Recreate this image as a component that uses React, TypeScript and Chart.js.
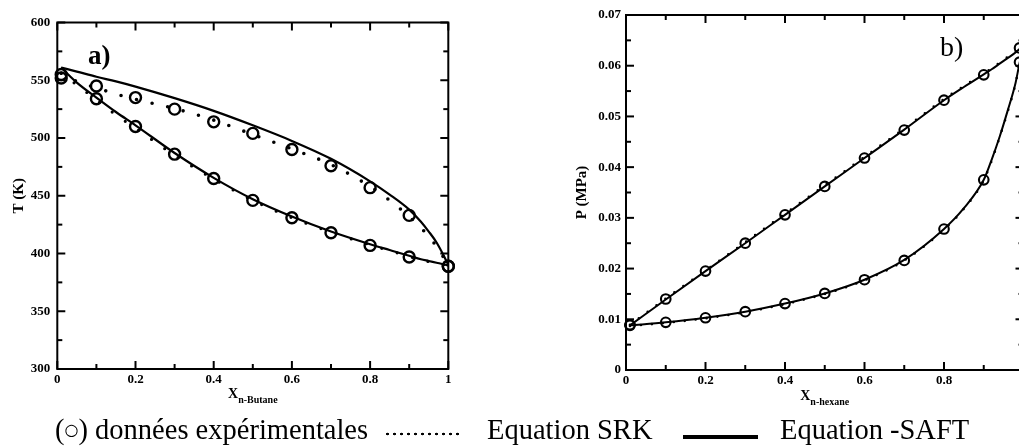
import React, { useEffect, useRef } from "react";
import { Chart, registerables } from "chart.js";

Chart.register(...registerables);

const FONT = '"Liberation Serif", "Times New Roman", serif';

// ---------- Panel a) : T (K) vs x n-Butane ----------
const expXA = [0.01, 0.1, 0.2, 0.3, 0.4, 0.5, 0.6, 0.7, 0.8, 0.9, 1.0];
const expBubbleA = [552, 534, 510, 486, 465, 446, 431, 418, 407, 397, 389];
const expDewA = [555, 545, 535, 525, 514, 504, 490, 476, 457, 433, 389];
const curveXA = [0.01, 0.05, 0.1, 0.15, 0.2, 0.3, 0.4, 0.5, 0.6, 0.7, 0.8, 0.85, 0.9, 0.93, 0.95, 0.97, 0.99, 1.0];
const saftDewA = [561, 557.5, 553, 549, 544.5, 534.5, 523.5, 511, 497.5, 482, 462.5, 451, 438, 427.5, 419, 409.5, 397, 390];
const saftBubbleA = [561, 548, 535, 522.5, 511, 487, 465.5, 447, 432, 419, 408, 403, 398, 395, 393.5, 392, 390.5, 389.5];
const srkDewA = [556, 549, 543.5, 538, 533.5, 525.5, 515.5, 503, 490.5, 477, 458, 446, 432, 422, 415, 406, 395.5, 390];
const srkBubbleA = [556, 546, 533, 520, 508.5, 485, 464.5, 446, 431, 418.5, 407.5, 402.5, 397.5, 394.5, 393, 391.5, 390, 389];
const xTicksA = [0, 0.2, 0.4, 0.6, 0.8, 1];
const yTicksA = [300, 350, 400, 450, 500, 550, 600];

// ---------- Panel b) : P (MPa) vs x n-hexane ----------
const expXB = [0.01, 0.1, 0.2, 0.3, 0.4, 0.5, 0.6, 0.7, 0.8, 0.9, 0.99];
const expBubbleB = [0.0089, 0.014, 0.0195, 0.025, 0.0306, 0.0362, 0.0418, 0.0473, 0.0532, 0.0582, 0.0635];
const expDewB = [0.0088, 0.0094, 0.0103, 0.0115, 0.0131, 0.0151, 0.0178, 0.0216, 0.0278, 0.0375, 0.0607];
const curveXB = [0.01, 0.1, 0.2, 0.3, 0.4, 0.5, 0.6, 0.7, 0.8, 0.85, 0.9, 0.92, 0.94, 0.96, 0.98, 0.99, 1.0];
const saftBubbleB = [0.0088, 0.0139, 0.0195, 0.025, 0.0306, 0.0362, 0.0418, 0.0474, 0.0532, 0.0558, 0.0583, 0.0593, 0.0604, 0.0615, 0.0626, 0.0633, 0.0638];
const saftDewB = [0.0088, 0.0094, 0.0103, 0.0115, 0.0131, 0.0151, 0.0178, 0.0217, 0.0278, 0.0319, 0.0375, 0.0415, 0.046, 0.0511, 0.0566, 0.0605, 0.0638];
const srkBubbleB = [0.0089, 0.0141, 0.0196, 0.0252, 0.0308, 0.0364, 0.042, 0.0476, 0.0534, 0.056, 0.0585, 0.0595, 0.0606, 0.0617, 0.0628, 0.0635, 0.0639];
const srkDewB = [0.0087, 0.0093, 0.0102, 0.0114, 0.013, 0.015, 0.0177, 0.0216, 0.0277, 0.0318, 0.0374, 0.0413, 0.0459, 0.0509, 0.0565, 0.0604, 0.0638];
const xTicksB = [0, 0.2, 0.4, 0.6, 0.8, 1];
const yTicksB = [0, 0.01, 0.02, 0.03, 0.04, 0.05, 0.06, 0.07];

const pts = (xs: number[], ys: number[]) => xs.map((x, i) => ({ x, y: ys[i] }));
const mids = (v: number[]) => v.slice(1).map((b, i) => (b + v[i]) / 2);

type Decor = {
  yTitle: string;
  yTitleX: number;
  xMain: string;
  xSub: string;
  xTitleY: number;
  label: string;
  labelFont: string;
  labelX: number;
  labelY: number;
  xMajor: number[];
  yMajor: number[];
};

function decorPlugin(d: Decor) {
  return {
    id: "decor",
    afterDatasetsDraw(chart: any) {
      const { ctx, chartArea: ca, scales } = chart;
      const xs = scales.x;
      const ys = scales.y;
      const MAJ = 8;
      const MIN = 5;
      ctx.save();
      ctx.strokeStyle = "#000";
      ctx.fillStyle = "#000";
      ctx.lineWidth = 2;
      const seg = (x1: number, y1: number, x2: number, y2: number) => {
        ctx.beginPath();
        ctx.moveTo(x1, y1);
        ctx.lineTo(x2, y2);
        ctx.stroke();
      };
      const xt = (v: number, len: number) => {
        const px = xs.getPixelForValue(v);
        seg(px, ca.bottom, px, ca.bottom - len);
        seg(px, ca.top, px, ca.top + len);
      };
      const yt = (v: number, len: number) => {
        const py = ys.getPixelForValue(v);
        seg(ca.left, py, ca.left + len, py);
        seg(ca.right, py, ca.right - len, py);
      };
      d.xMajor.forEach((v) => xt(v, MAJ));
      mids(d.xMajor).forEach((v) => xt(v, MIN));
      d.yMajor.forEach((v) => yt(v, MAJ));
      mids(d.yMajor).forEach((v) => yt(v, MIN));
      ctx.lineWidth = 2;
      ctx.strokeRect(ca.left, ca.top, ca.right - ca.left, ca.bottom - ca.top);

      // y title
      ctx.save();
      ctx.translate(d.yTitleX, (ca.top + ca.bottom) / 2);
      ctx.rotate(-Math.PI / 2);
      ctx.textAlign = "center";
      ctx.textBaseline = "middle";
      ctx.font = `bold 15px ${FONT}`;
      ctx.fillText(d.yTitle, 0, 0);
      ctx.restore();

      // x title with subscript
      ctx.textAlign = "left";
      ctx.textBaseline = "alphabetic";
      ctx.font = `bold 14px ${FONT}`;
      const wX = ctx.measureText(d.xMain).width;
      ctx.font = `bold 10px ${FONT}`;
      const wS = ctx.measureText(d.xSub).width;
      const start = (ca.left + ca.right) / 2 - (wX + wS) / 2;
      ctx.font = `bold 14px ${FONT}`;
      ctx.fillText(d.xMain, start, d.xTitleY);
      ctx.font = `bold 10px ${FONT}`;
      ctx.fillText(d.xSub, start + wX, d.xTitleY + 5);

      // panel label
      ctx.font = d.labelFont;
      ctx.fillText(d.label, d.labelX, d.labelY);
      ctx.restore();
    },
  };
}

function expDs(data: any[], r: number, w: number) {
  return {
    data,
    showLine: false,
    pointRadius: r,
    pointBorderWidth: w,
    pointStyle: "circle",
    pointBackgroundColor: "rgba(0,0,0,0)",
    pointBorderColor: "#000",
    borderColor: "#000",
    clip: false,
  };
}
function solidDs(data: any[], w: number) {
  return {
    data,
    borderColor: "#000",
    borderWidth: w,
    pointRadius: 0,
    cubicInterpolationMode: "monotone",
    fill: false,
  };
}
function dottedDs(data: any[], w: number, gap: number) {
  return {
    data,
    borderColor: "#000",
    borderWidth: w,
    borderDash: [0, gap],
    borderCapStyle: "round",
    pointRadius: 0,
    cubicInterpolationMode: "monotone",
    fill: false,
  };
}

function makeConfig(opts: {
  datasets: any[];
  xTicks: number[];
  yTicks: number[];
  yMin: number;
  yMax: number;
  yWidth: number;
  xHeight: number;
  pad: any;
  yPad: number;
  xPad: number;
  yFmt: (v: number) => string;
  decor: Decor;
}) {
  const font = { family: FONT, size: 13, weight: "bold" as const };
  return {
    type: "line" as const,
    data: { datasets: opts.datasets },
    options: {
      responsive: false,
      animation: false,
      events: [],
      layout: { padding: opts.pad },
      plugins: { legend: { display: false }, tooltip: { enabled: false } },
      scales: {
        x: {
          type: "linear",
          min: 0,
          max: 1,
          grid: { display: false, drawTicks: false },
          border: { display: false },
          afterBuildTicks: (s: any) => {
            s.ticks = opts.xTicks.map((v) => ({ value: v }));
          },
          afterFit: (s: any) => {
            s.height = opts.xHeight;
            s.paddingLeft = 0;
            s.paddingRight = 0;
          },
          ticks: {
            color: "#000",
            font,
            padding: opts.xPad,
            maxRotation: 0,
            autoSkip: false,
            callback: (v: any) => (v === 0 ? "0" : v === 1 ? "1" : Number(v).toFixed(1)),
          },
        },
        y: {
          type: "linear",
          min: opts.yMin,
          max: opts.yMax,
          grid: { display: false, drawTicks: false },
          border: { display: false },
          afterBuildTicks: (s: any) => {
            s.ticks = opts.yTicks.map((v) => ({ value: v }));
          },
          afterFit: (s: any) => {
            s.width = opts.yWidth;
            s.paddingTop = 0;
            s.paddingBottom = 0;
          },
          ticks: {
            color: "#000",
            font,
            padding: opts.yPad,
            autoSkip: false,
            callback: (v: any) => opts.yFmt(Number(v)),
          },
        },
      },
    },
    plugins: [decorPlugin(opts.decor)],
  } as any;
}

export default function App() {
  const refA = useRef<HTMLCanvasElement | null>(null);
  const refB = useRef<HTMLCanvasElement | null>(null);

  useEffect(() => {
    const cfgA = makeConfig({
      datasets: [
        expDs(pts(expXA, expBubbleA), 5.5, 2.4),
        expDs(pts(expXA, expDewA), 5.5, 2.4),
        solidDs(pts(curveXA, saftDewA), 2.2),
        solidDs(pts(curveXA, saftBubbleA), 2.2),
        dottedDs(pts(curveXA, srkDewA), 3.6, 16),
        dottedDs(pts(curveXA, srkBubbleA), 3.2, 16),
      ],
      xTicks: xTicksA,
      yTicks: yTicksA,
      yMin: 300,
      yMax: 600,
      yWidth: 57.3,
      xHeight: 51,
      pad: { left: 0, top: 22.5, right: 21.7, bottom: 0 },
      yPad: 7,
      xPad: 3,
      yFmt: (v) => String(Math.round(v)),
      decor: {
        yTitle: "T (K)",
        yTitleX: 19,
        xMain: "X",
        xSub: "n-Butane",
        xTitleY: 398,
        label: "a)",
        labelFont: `bold 27px ${FONT}`,
        labelX: 88,
        labelY: 64,
        xMajor: xTicksA,
        yMajor: yTicksA,
      },
    });
    const cfgB = makeConfig({
      datasets: [
        expDs(pts(expXB, expBubbleB), 4.8, 2.1),
        expDs(pts(expXB, expDewB), 4.8, 2.1),
        solidDs(pts(curveXB, saftBubbleB), 2),
        solidDs(pts(curveXB, saftDewB), 2),
        dottedDs(pts(curveXB, srkBubbleB), 2.6, 11),
        dottedDs(pts(curveXB, srkDewB), 2.6, 11),
      ],
      xTicks: xTicksB,
      yTicks: yTicksB,
      yMin: 0,
      yMax: 0.07,
      yWidth: 86,
      xHeight: 50,
      pad: { left: 0, top: 15, right: 16.5, bottom: 0 },
      yPad: 5,
      xPad: 3,
      yFmt: (v) => (v === 0 ? "0" : v.toFixed(2)),
      decor: {
        yTitle: "P (MPa)",
        yTitleX: 42,
        xMain: "X",
        xSub: "n-hexane",
        xTitleY: 400,
        label: "b)",
        labelFont: `28px ${FONT}`,
        labelX: 400,
        labelY: 56,
        xMajor: xTicksB,
        yMajor: yTicksB,
      },
    });
    const a = new Chart(refA.current as HTMLCanvasElement, cfgA);
    const b = new Chart(refB.current as HTMLCanvasElement, cfgB);
    return () => {
      a.destroy();
      b.destroy();
    };
  }, []);

  const legendText: React.CSSProperties = {
    position: "absolute",
    top: 416,
    fontFamily: FONT,
    fontSize: 28.5,
    lineHeight: "28.5px",
    whiteSpace: "nowrap",
    color: "#000",
  };

  return (
    <div
      style={{
        position: "absolute",
        left: 0,
        top: 0,
        width: 1019,
        height: 448,
        overflow: "hidden",
        background: "#fff",
      }}
    >
      <canvas
        ref={refA}
        width={470}
        height={420}
        style={{ position: "absolute", left: 0, top: 0, width: 470, height: 420 }}
      />
      <canvas
        ref={refB}
        width={500}
        height={420}
        style={{ position: "absolute", left: 540, top: 0, width: 500, height: 420 }}
      />
      <div style={{ ...legendText, left: 55 }}>
        (<span style={{ fontSize: 16, position: "relative", top: -4, fontFamily: '"DejaVu Sans", sans-serif' }}>○</span>) données expérimentales
      </div>
      <div
        style={{
          position: "absolute",
          left: 384,
          top: 432,
          width: 78,
          height: 4,
          backgroundImage: "radial-gradient(circle, #000 1.1px, rgba(0,0,0,0) 1.6px)",
          backgroundSize: "7px 4px",
        }}
      />
      <div style={{ ...legendText, left: 487 }}>Equation SRK</div>
      <div
        style={{ position: "absolute", left: 683, top: 435, width: 75, height: 4, background: "#000" }}
      />
      <div style={{ ...legendText, left: 780 }}>Equation -SAFT</div>
    </div>
  );
}
